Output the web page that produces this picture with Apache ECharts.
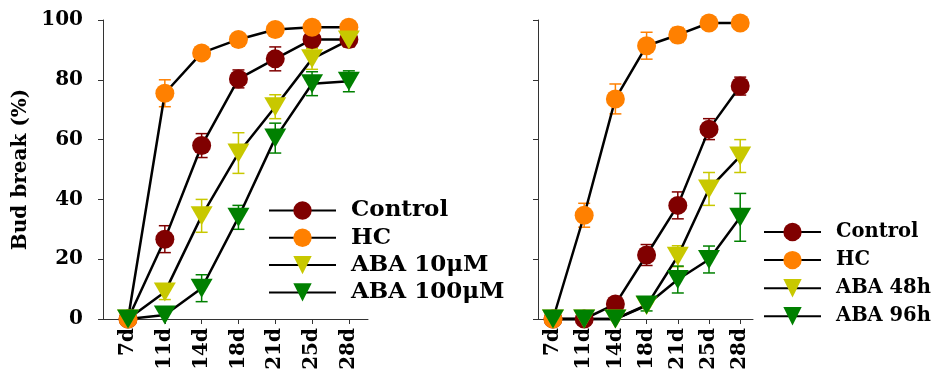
<!DOCTYPE html>
<html lang="en">
<head>
<meta charset="UTF-8">
<title>Bud break</title>
<style>
  html, body {margin:0; padding:0; background:#fff}
  #chart {width:931px; height:376px}
</style>
<script src="https://cdn.jsdelivr.net/npm/echarts@6/dist/echarts.min.js"></script>
</head>
<body>
<div id="chart"></div>
<script>
// categories (days)
const days = ['7d', '11d', '14d', '18d', '21d', '25d', '28d'];
const yTicks = [0, 20, 40, 60, 80, 100];

// left panel
const leftNames = ['Control', 'HC', 'ABA 10μM', 'ABA 100μM'];
const ctrlA = [0, 26.7, 58, 80.3, 87, 93.5, 93.5];
const ctrlAErr = [0, 4.5, 4, 3, 4, 2.5, 2.5];
const hcA = [0, 75.5, 89, 93.5, 96.8, 97.6, 97.6];
const hcAErr = [0, 4.5, 1.5, 1.5, 1.5, 1, 0.5];
const aba10 = [0, 9, 34.5, 55.5, 71, 87, 93.3];
const aba10Err = [0, 2.5, 5.5, 6.8, 4, 3.5, 2];
const aba100 = [0, 1.3, 10.3, 34, 60.5, 78.7, 79.5];
const aba100Err = [0, 0, 4.5, 4, 5, 4, 3.5];

// right panel
const rightNames = ['Control', 'HC', 'ABA 48h', 'ABA 96h'];
const ctrlB = [0, 0, 5, 21.4, 38, 63.5, 77.9];
const ctrlBErr = [0, 0, 0, 3.5, 4.5, 3.5, 3];
const hcB = [0, 34.7, 73.6, 91.4, 95, 99, 99];
const hcBErr = [0, 4, 5, 4.5, 2.5, 0, 0];
const aba48 = [0, 0, 0, 4.5, 21, 43.5, 54.5];
const aba48Err = [0, 0, 0, 0, 3.5, 5.5, 5.5];
const aba96 = [0, 0, 0, 4.7, 13.2, 19.9, 34];
const aba96Err = [0, 0, 0, 2, 4.5, 4.5, 8];

const colors = ['#800000', '#ff8000', '#c8c800', '#008000'];
const font = 'DejaVu Serif';

let chart = echarts.init(document.getElementById('chart'));

function lineSeries(name, vals, idx, color, tri) {
    return {
        name: name,
        type: 'line',
        xAxisIndex: idx,
        yAxisIndex: idx,
        data: vals.map((v, i) => [i, v]),
        symbol: tri ? 'triangle' : 'circle',
        symbolRotate: tri ? 180 : 0,
        symbolSize: tri ? [22, 19] : 19,
        showAllSymbol: true,
        clip: false,
        z: 3,
        lineStyle: {color: '#000', width: 2.5},
        itemStyle: {color: color, opacity: 1},
        emphasis: {disabled: true}
    };
}

function errSeries(vals, errs, idx, color) {
    return {
        type: 'custom',
        xAxisIndex: idx,
        yAxisIndex: idx,
        z: 2,
        silent: true,
        data: vals.map((v, i) => [i, v, errs[i]]).filter(d => d[2] > 0),
        renderItem: function (params, api) {
            let x = api.value(0), v = api.value(1), e = api.value(2);
            let top = api.coord([x, v + e]);
            let bot = api.coord([x, v - e]);
            let w = 6;
            let st = {stroke: color, lineWidth: 1.5};
            return {
                type: 'group',
                children: [
                    {type: 'line', shape: {x1: top[0], y1: top[1], x2: bot[0], y2: bot[1]}, style: st},
                    {type: 'line', shape: {x1: top[0] - w, y1: top[1], x2: top[0] + w, y2: top[1]}, style: st},
                    {type: 'line', shape: {x1: bot[0] - w, y1: bot[1], x2: bot[0] + w, y2: bot[1]}, style: st}
                ]
            };
        }
    };
}

function xAxis(idx, min, max) {
    return {
        type: 'value',
        gridIndex: idx,
        min: min,
        max: max,
        splitLine: {show: false},
        axisLine: {onZero: false, lineStyle: {color: '#333', width: 1}},
        axisTick: {show: true, customValues: [0, 1, 2, 3, 4, 5, 6], length: 5, lineStyle: {color: '#333'}},
        axisLabel: {
            customValues: [0, 1, 2, 3, 4, 5, 6],
            formatter: v => days[v],
            rotate: 90,
            margin: 9,
            color: '#000',
            fontFamily: font,
            fontWeight: 'bold',
            fontSize: 20
        }
    };
}

function yAxis(idx, labels) {
    return {
        type: 'value',
        gridIndex: idx,
        min: 0,
        max: 100,
        interval: 20,
        name: labels ? 'Bud break (%)' : '',
        nameLocation: 'middle',
        nameGap: 72,
        nameRotate: 90,
        nameTextStyle: {color: '#000', fontFamily: font, fontWeight: 'bold', fontSize: 20},
        splitLine: {show: false},
        axisLine: {show: true, onZero: false, lineStyle: {color: '#333', width: 1}},
        axisTick: {show: true, length: 5, lineStyle: {color: '#333'}},
        axisLabel: {
            show: labels,
            margin: 20,
            color: '#000',
            fontFamily: font,
            fontWeight: 'bold',
            fontSize: 20
        }
    };
}

function legend(names, left, top, width, size, gap) {
    return {
        data: names,
        orient: 'vertical',
        left: left,
        top: top,
        padding: 0,
        itemWidth: width,
        itemHeight: 23,
        itemGap: gap,
        selectedMode: false,
        symbolRotate: 'inherit',
        textStyle: {color: '#000', fontFamily: font, fontWeight: 'bold', fontSize: size, padding: [0, 0, 0, 10]}
    };
}

let option = {
    animation: false,
    grid: [
        {left: 103, top: 20, width: 265, height: 299},
        {left: 538, top: 20, width: 215, height: 299}
    ],
    xAxis: [xAxis(0, -0.68, 6.52), xAxis(1, -0.48, 6.41)],
    yAxis: [yAxis(0, true), yAxis(1, false)],
    legend: [
        legend(leftNames, 268, 199, 67, 23, 4.3),
        legend(rightNames, 763, 222, 57, 19.5, 8.1)
    ],
    series: [
        errSeries(ctrlA, ctrlAErr, 0, colors[0]),
        errSeries(hcA, hcAErr, 0, colors[1]),
        errSeries(aba10, aba10Err, 0, colors[2]),
        errSeries(aba100, aba100Err, 0, colors[3]),
        lineSeries(leftNames[0], ctrlA, 0, colors[0], false),
        lineSeries(leftNames[1], hcA, 0, colors[1], false),
        lineSeries(leftNames[2], aba10, 0, colors[2], true),
        lineSeries(leftNames[3], aba100, 0, colors[3], true),
        errSeries(ctrlB, ctrlBErr, 1, colors[0]),
        errSeries(hcB, hcBErr, 1, colors[1]),
        errSeries(aba48, aba48Err, 1, colors[2]),
        errSeries(aba96, aba96Err, 1, colors[3]),
        lineSeries(rightNames[0], ctrlB, 1, colors[0], false),
        lineSeries(rightNames[1], hcB, 1, colors[1], false),
        lineSeries(rightNames[2], aba48, 1, colors[2], true),
        lineSeries(rightNames[3], aba96, 1, colors[3], true)
    ]
};

chart.setOption(option);
</script>
</body>
</html>
